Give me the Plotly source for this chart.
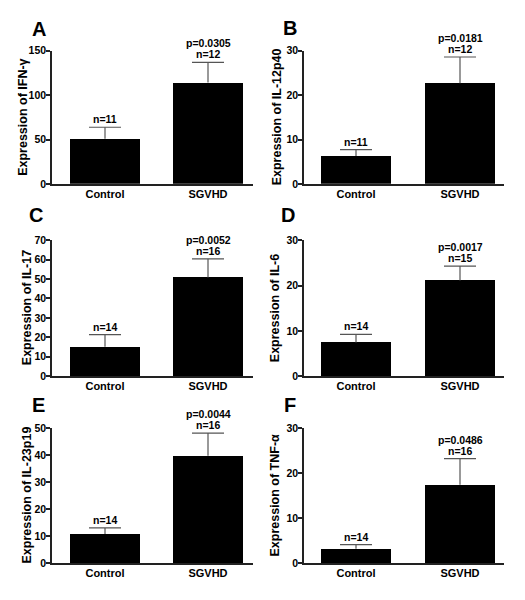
import plotly.graph_objects as go

categories = ["Control", "SGVHD"]

panel_letters = ["A", "B", "C", "D", "E", "F"]
y_titles = ["Expression of IFN-γ", "Expression of IL-12p40", "Expression of IL-17",
            "Expression of IL-6", "Expression of IL-23p19", "Expression of TNF-α"]

ifn_mean = [50.8, 114.4]
ifn_err = [13.0, 22.6]
il12_mean = [6.3, 22.7]
il12_err = [1.4, 5.9]
il17_mean = [15.1, 50.8]
il17_err = [6.3, 9.6]
il6_mean = [7.4, 21.1]
il6_err = [1.8, 3.2]
il23_mean = [10.8, 39.7]
il23_err = [2.2, 8.4]
tnf_mean = [3.2, 17.4]
tnf_err = [0.9, 5.8]

n_labels = [["n=11", "n=12"], ["n=11", "n=12"], ["n=14", "n=16"],
            ["n=14", "n=15"], ["n=14", "n=16"], ["n=14", "n=16"]]
p_labels = ["p=0.0305", "p=0.0181", "p=0.0052", "p=0.0017", "p=0.0044", "p=0.0486"]

y_max = [150, 30, 70, 30, 50, 30]
y_dtick = [50, 10, 10, 10, 10, 10]

means = [ifn_mean, il12_mean, il17_mean, il6_mean, il23_mean, tnf_mean]
errs = [ifn_err, il12_err, il17_err, il6_err, il23_err, tnf_err]

W, H = 525, 600
# layout geometry in pixels
col_geom = [dict(L=52, R=253, cc=105, sc=208, w=70),
            dict(L=304, R=504, cc=356, sc=460, w=70)]
row_geom = [(181.5, 45.7), (377.7, 239), (568.5, 430.5)]
title_x = [[23.5, 277], [27, 275], [27, 275]]
letter_pos = [[(33, 18), (284, 17)], [(30, 208), (282, 208)], [(33, 402), (285, 402)]]
CAP_PX = 16  # half-width of error bar caps in pixels

BOLD = dict(family="Arial, Liberation Sans, sans-serif", color="black", weight="bold")

fig = go.Figure()
annotations = []
for i in range(6):
    r, c = divmod(i, 2)
    g = col_geom[c]
    u = g["sc"] - g["cc"]
    xr = [(g["L"] - g["cc"]) / u, 1 + (g["R"] - g["sc"]) / u]
    y0, yt = row_geom[r]
    xa = "xaxis" if i == 0 else f"xaxis{i+1}"
    ya = "yaxis" if i == 0 else f"yaxis{i+1}"
    xref = "x" if i == 0 else f"x{i+1}"
    yref = "y" if i == 0 else f"y{i+1}"
    fig.add_trace(go.Bar(
        x=[0, 1], y=means[i], width=g["w"] / u,
        marker=dict(color="black", line=dict(width=0)),
        xaxis=xref, yaxis=yref, showlegend=False, hoverinfo="skip"))
    # upper-only error bars: stem from mean to mean+err, cap at top
    ex, ey = [], []
    d = CAP_PX / u
    for k in range(2):
        top = means[i][k] + errs[i][k]
        ex += [k, k, None, k - d, k + d, None]
        ey += [means[i][k], top, None, top, top, None]
    fig.add_trace(go.Scatter(x=ex, y=ey, mode="lines",
                             line=dict(color="#555555", width=1.2),
                             xaxis=xref, yaxis=yref, showlegend=False, hoverinfo="skip"))
    fig.update_layout(**{
        xa: dict(domain=[g["L"] / W, g["R"] / W], range=xr, showline=True,
                 linecolor="#222222", linewidth=1.5, showgrid=False, zeroline=False,
                 tickmode="array", tickvals=[0, 1], ticktext=categories, ticks="",
                 ticklabelstandoff=-1,
                 tickfont=dict(size=11, **BOLD), anchor=yref, fixedrange=True),
        ya: dict(domain=[1 - y0 / H, 1 - yt / H], range=[0, y_max[i]], showline=True,
                 linecolor="#222222", linewidth=1.5, showgrid=False, zeroline=False,
                 dtick=y_dtick[i], tick0=0, ticks="outside", ticklen=4, tickwidth=1.5,
                 ticklabelstandoff=-2,
                 tickcolor="#222222", tickfont=dict(size=10.5, **BOLD), anchor=xref,
                 fixedrange=True),
    })
    # n labels
    for k in range(2):
        top = means[i][k] + errs[i][k]
        annotations.append(dict(x=k, y=top, xref=xref, yref=yref, text=n_labels[i][k],
                                showarrow=False, yanchor="bottom", yshift=0,
                                font=dict(size=10.5, **BOLD)))
    top = means[i][1] + errs[i][1]
    annotations.append(dict(x=1, y=top, xref=xref, yref=yref, text=p_labels[i],
                            showarrow=False, yanchor="bottom", yshift=11,
                            font=dict(size=10.5, **BOLD)))
    # y titles
    annotations.append(dict(x=title_x[r][c] / W, y=1 - (y0 + yt) / 2 / H, xref="paper",
                            yref="paper", text=y_titles[i], textangle=-90, showarrow=False,
                            xanchor="center", yanchor="middle", font=dict(size=12.5, **BOLD)))
    lx, ly = letter_pos[r][c]
    annotations.append(dict(x=lx / W, y=1 - ly / H, xref="paper", yref="paper",
                            text=panel_letters[i], showarrow=False, xanchor="left",
                            yanchor="top", xshift=-3, yshift=8, font=dict(size=20, **BOLD)))

fig.update_layout(width=W, height=H, margin=dict(l=0, r=0, t=0, b=0),
                  paper_bgcolor="white", plot_bgcolor="white",
                  annotations=annotations, bargap=0)
fig.write_html("out.html", config={"displayModeBar": False},
               post_script="document.body.style.margin='0';document.body.style.overflow='hidden';")
